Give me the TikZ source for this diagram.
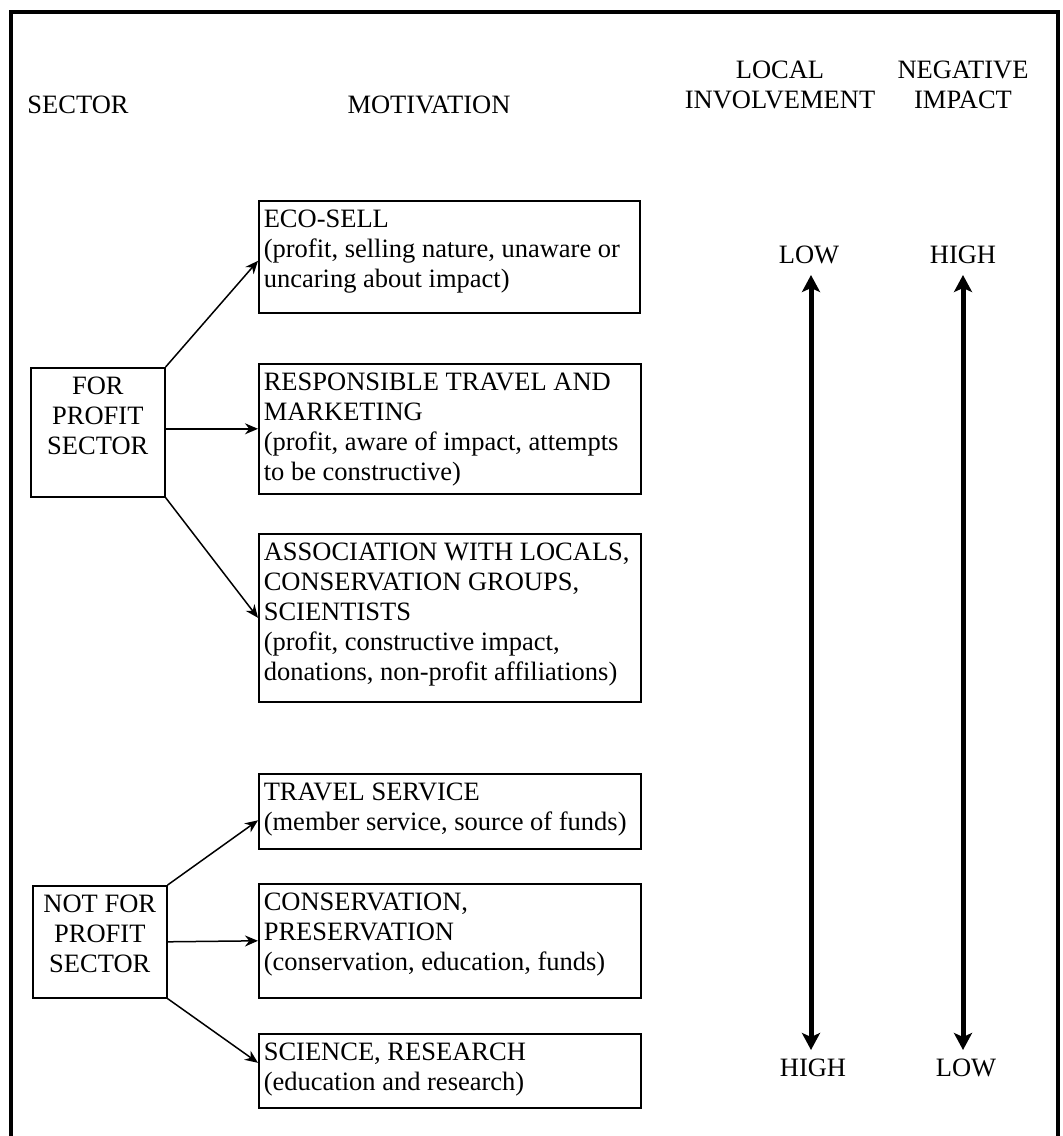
\documentclass[tikz,border=0pt]{standalone}
\usepackage{fontspec}
\setmainfont{Liberation Serif}
\usetikzlibrary{arrows.meta}
\newcommand\lbox[3]{\parbox[c][#2pt][t]{#1pt}{\raggedright\vspace*{6pt}\strut #3}}
\newcommand\cbox[3]{\parbox[c][#2pt][t]{#1pt}{\centering\vspace*{6pt}\strut #3}}
\begin{document}
\begin{tikzpicture}[x=1pt,y=-1pt,
  every node/.style={font=\fontsize{26.5}{30}\selectfont},
  mbox/.style={draw, line width=1.6pt, inner xsep=5pt, inner ysep=0pt, anchor=north west},
  hdr/.style={anchor=base, inner sep=0pt},
  conn/.style={line width=1.5pt, -{Stealth[length=13pt,width=11pt]}},
  scale arrow/.style={line width=5pt, {Stealth[length=17pt,width=18pt,inset=4pt]}-{Stealth[length=17pt,width=18pt,inset=4pt]}},
  frame/.style={line width=3.5pt}]
\useasboundingbox (0,0) rectangle (1063,1136);
% frame
\draw[frame] (11,1136) -- (11,12) -- (1058,12) -- (1058,1136);
% headers
\node[hdr] (hsector) at (78,113) {SECTOR};
\node[hdr] (hmot) at (429,113) {MOTIVATION};
\node[hdr] (hlocal) at (780,78) {LOCAL};
\node[hdr] (hinv) at (780,108) {INVOLVEMENT};
\node[hdr] (hneg) at (963,78) {NEGATIVE};
\node[hdr] (himp) at (963,108) {IMPACT};
% sector boxes
\node[mbox] (fp) at (30,367) {\cbox{124}{129}{FOR\\PROFIT\\SECTOR}};
\node[mbox] (nfp) at (32,885) {\cbox{124}{112}{NOT FOR\\PROFIT\\SECTOR}};
% motivation boxes
\node[mbox] (eco) at (258,200) {\lbox{371}{112}{ECO-SELL\\(profit, selling nature, unaware or\\uncaring about impact)}};
\node[mbox] (resp) at (258,363) {\lbox{372}{130}{RESPONSIBLE TRAVEL AND\\MARKETING\\(profit, aware of impact, attempts\\to be constructive)}};
\node[mbox] (assoc) at (258,533) {\lbox{372}{168}{ASSOCIATION WITH LOCALS,\\CONSERVATION GROUPS,\\SCIENTISTS\\(profit, constructive impact,\\donations, non-profit affiliations)}};
\node[mbox] (travel) at (258,773) {\lbox{372}{75}{TRAVEL SERVICE\\(member service, source of funds)}};
\node[mbox] (cons) at (258,883) {\lbox{372}{114}{CONSERVATION,\\PRESERVATION\\(conservation, education, funds)}};
\node[mbox] (sci) at (258,1033) {\lbox{372}{74}{SCIENCE, RESEARCH\\(education and research)}};
% connectors
\draw[conn] (fp.north east) -- ([yshift=-4pt]eco.west);
\draw[conn] (fp.east |- resp.west) -- (resp.west);
\draw[conn] (fp.south east) -- (assoc.west);
\draw[conn] (nfp.north east) -- ([yshift=-9pt]travel.west);
\draw[conn] (nfp.east) -- (cons.west);
\draw[conn] (nfp.south east) -- ([yshift=8pt]sci.west);
% scale labels
\node[hdr] (lowA) at (809,263) {LOW};
\node[hdr] (highA) at (813,1076) {HIGH};
\node[hdr] (highB) at (963,263) {HIGH};
\node[hdr] (lowB) at (966,1076) {LOW};
\coordinate (a1) at (811,275);
\coordinate (a2) at (811,1050);
\coordinate (b1) at (963,275);
\coordinate (b2) at (963,1050);
\draw[scale arrow] (a1) -- (a2);
\draw[scale arrow] (b1) -- (b2);
\end{tikzpicture}
\end{document}
